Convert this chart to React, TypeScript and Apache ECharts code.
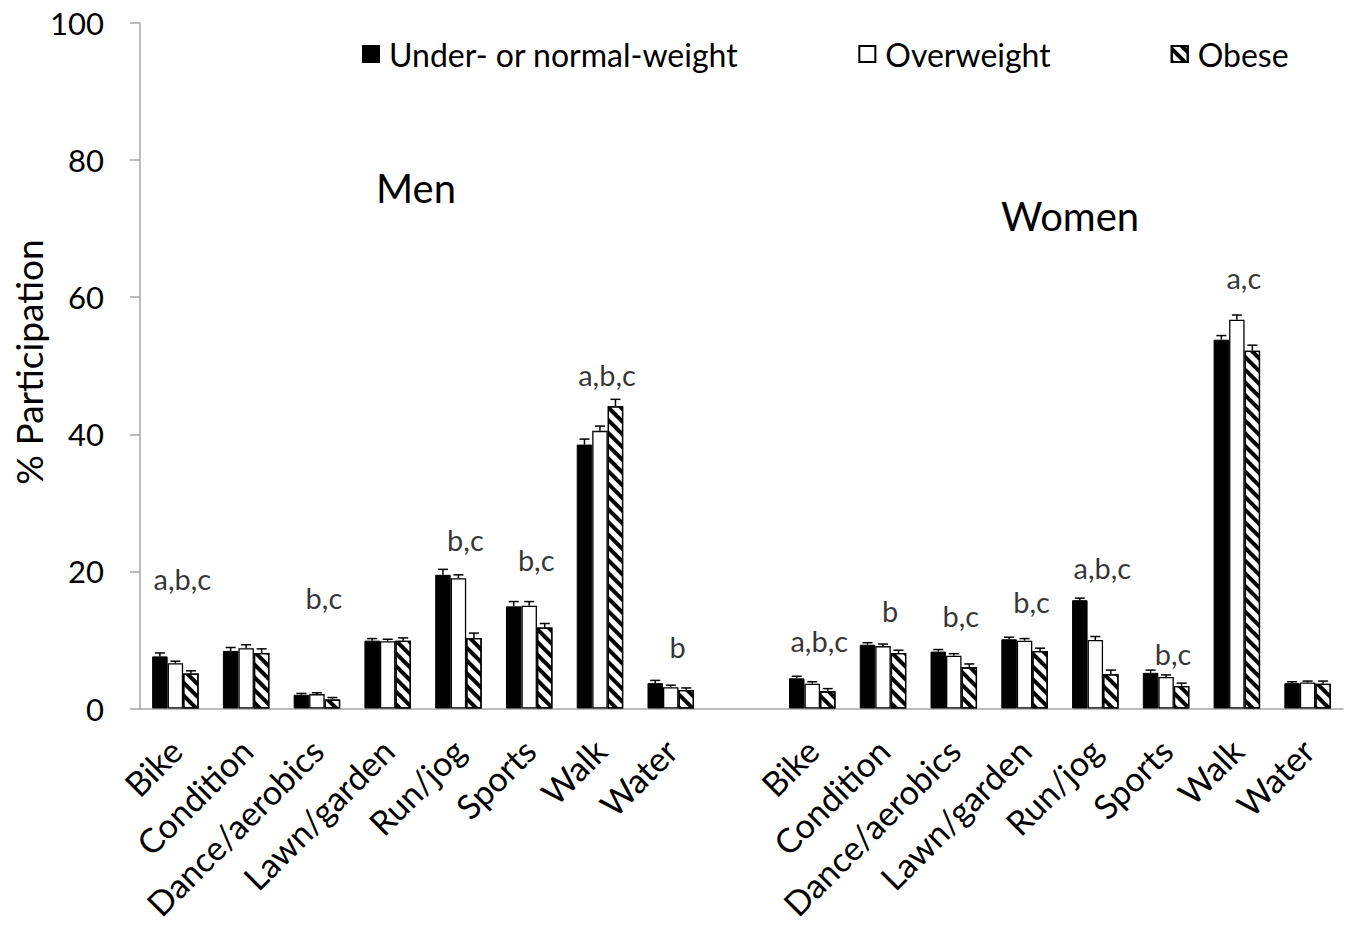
import React, { useEffect, useRef } from "react";
import * as echarts from "echarts";

const activities = ["Bike", "Condition", "Dance/aerobics", "Lawn/garden", "Run/jog", "Sports", "Walk", "Water"];
const seriesNames = ["Under- or normal-weight", "Overweight", "Obese"];
const yTitle = "% Participation";

const menUnder = [7.6, 8.4, 2.0, 9.9, 19.5, 14.9, 38.5, 3.7];
const menOver = [6.6, 8.8, 2.1, 9.8, 19.0, 15.0, 40.5, 3.1];
const menObese = [5.1, 8.1, 1.3, 9.9, 10.3, 11.8, 44.1, 2.7];
const womenUnder = [4.4, 9.3, 8.3, 10.1, 15.8, 5.2, 53.8, 3.7];
const womenOver = [3.6, 9.1, 7.7, 9.9, 10.0, 4.6, 56.7, 3.8];
const womenObese = [2.5, 8.1, 6.0, 8.4, 5.0, 3.3, 52.2, 3.6];

const menUnderErr = [0.5, 0.5, 0.2, 0.3, 0.8, 0.7, 0.8, 0.4];
const menOverErr = [0.3, 0.5, 0.2, 0.3, 0.5, 0.6, 0.7, 0.3];
const menObeseErr = [0.4, 0.6, 0.3, 0.4, 0.7, 0.6, 1.0, 0.3];
const womenUnderErr = [0.3, 0.3, 0.3, 0.3, 0.3, 0.4, 0.6, 0.2];
const womenOverErr = [0.3, 0.3, 0.3, 0.3, 0.5, 0.3, 0.7, 0.2];
const womenObeseErr = [0.4, 0.4, 0.5, 0.4, 0.6, 0.4, 0.8, 0.4];

const menLetters = ["a,b,c", "", "b,c", "", "b,c", "b,c", "a,b,c", "b"];
const menLetterY = [19.0, 0, 16.2, 0, 24.6, 21.7, 48.7, 9.1];
const womenLetters = ["a,b,c", "b", "b,c", "b,c", "a,b,c", "b,c", "a,c", ""];
const womenLetterY = [9.9, 14.3, 13.6, 15.6, 20.5, 8.0, 62.9, 0];

const yTicks = [0, 20, 40, 60, 80, 100];

const FONT = "Lato, 'Open Sans', sans-serif";
const BAR_W = 15.5;

export default function App() {
  const ref = useRef<HTMLDivElement>(null);
  useEffect(() => {
    if (!ref.current) return;
    const chart = echarts.init(ref.current, null, { renderer: "svg" });
    const categories = [...activities, "", ...activities];
    const join = (m: number[], w: number[]) => [...m, "-", ...w];
    const under = join(menUnder, womenUnder);
    const over = join(menOver, womenOver);
    const obese = join(menObese, womenObese);
    const errs = [join(menUnderErr, womenUnderErr), join(menOverErr, womenOverErr), join(menObeseErr, womenObeseErr)];
    const vals = [under, over, obese];

    const errData: any[] = [];
    vals.forEach((arr, s) => {
      arr.forEach((v, i) => {
        if (v !== "-") errData.push([i, v, errs[s][i], s]);
      });
    });

    const letters = [...menLetters, "", ...womenLetters];
    const letterY = [...menLetterY, 0, ...womenLetterY];
    const letterData = letters
      .map((t, i) => ({ name: t, value: [i, letterY[i]] }))
      .filter((d) => d.name !== "");

    const barBase = {
      type: "bar",
      barWidth: BAR_W,
      barGap: "0%",
    };

    chart.setOption({
      animation: false,
      textStyle: { fontFamily: FONT, color: "#000" },
      grid: { left: 140, right: 12, top: 23, bottom: 224.5, containLabel: false, outerBoundsMode: "none" },
      legend: {
        left: 362,
        top: 38,
        padding: 0,
        itemWidth: 16,
        itemHeight: 16,
        itemGap: 120,
        icon: "rect",
        data: seriesNames,
        textStyle: { fontSize: 32, fontFamily: FONT, color: "#000", padding: [0, 0, 0, 5] },
        selectedMode: false,
      },
      xAxis: {
        type: "category",
        data: categories,
        axisLine: { lineStyle: { color: "#a6a6a6", width: 1.5 } },
        axisTick: { length: 9, lineStyle: { color: "#a6a6a6", width: 1.5 } },
        axisLabel: { interval: 0, rotate: 45, fontSize: 34, fontFamily: FONT, color: "#000", margin: 36 },
      },
      yAxis: {
        type: "value",
        min: yTicks[0],
        max: yTicks[yTicks.length - 1],
        interval: 20,
        axisLine: { show: true, lineStyle: { color: "#a6a6a6", width: 1.5 } },
        axisTick: { show: true, length: 10, lineStyle: { color: "#a6a6a6", width: 1.5 } },
        splitLine: { show: false },
        axisLabel: { fontSize: 31, fontFamily: FONT, color: "#000", margin: 36 },
      },
      series: [
        {
          ...barBase,
          name: seriesNames[0],
          data: under,
          itemStyle: { color: "#000", borderColor: "#000", borderWidth: 1 },
        },
        {
          ...barBase,
          name: seriesNames[1],
          data: over,
          itemStyle: { color: "#fff", borderColor: "#000", borderWidth: 1.3 },
        },
        {
          ...barBase,
          name: seriesNames[2],
          data: obese,
          itemStyle: {
            color: "#fff",
            borderColor: "#000",
            borderWidth: 1.3,
            decal: {
              symbol: "rect",
              symbolSize: 1,
              color: "#000",
              dashArrayX: [1, 0],
              dashArrayY: [3.5, 4.5],
              rotation: Math.PI / 4,
            },
          },
        },
        {
          type: "custom",
          name: "err",
          data: errData,
          encode: { x: 0, y: 1 },
          z: 5,
          renderItem: (params: any, api: any) => {
            const idx = api.value(0);
            const v = api.value(1);
            const e = api.value(2);
            const s = api.value(3);
            const base = api.coord([idx, v]);
            const top = api.coord([idx, v + e]);
            const x = base[0] + (s - 1) * BAR_W;
            const style = { stroke: "#000", lineWidth: 1.5 };
            return {
              type: "group",
              children: [
                { type: "line", shape: { x1: x, y1: base[1], x2: x, y2: top[1] }, style },
                { type: "line", shape: { x1: x - 5, y1: top[1], x2: x + 5, y2: top[1] }, style },
              ],
            };
          },
        },
        {
          type: "scatter",
          name: "letters",
          data: letterData,
          symbolSize: 0,
          z: 6,
          label: {
            show: true,
            position: "inside",
            offset: [7, 0],
            formatter: (p: any) => p.name,
            fontSize: 29,
            fontFamily: FONT,
            color: "#000",
          },
        },
      ],
      graphic: [
        { type: "text", left: 376, top: 168, style: { text: "Men", font: `40px ${FONT}`, fill: "#000" } },
        { type: "text", left: 1001, top: 196, style: { text: "Women", font: `40px ${FONT}`, fill: "#000" } },
        {
          type: "text",
          x: 28,
          y: 362,
          rotation: Math.PI / 2,
          style: {
            text: yTitle,
            font: `37px ${FONT}`,
            fill: "#000",
            align: "center",
            verticalAlign: "middle",
          },
        },
      ],
    });
    return () => chart.dispose();
  }, []);
  return (
    <div
      ref={ref}
      style={{ position: "absolute", left: 0, top: 0, width: 1355, height: 933, background: "#fff" }}
    />
  );
}
